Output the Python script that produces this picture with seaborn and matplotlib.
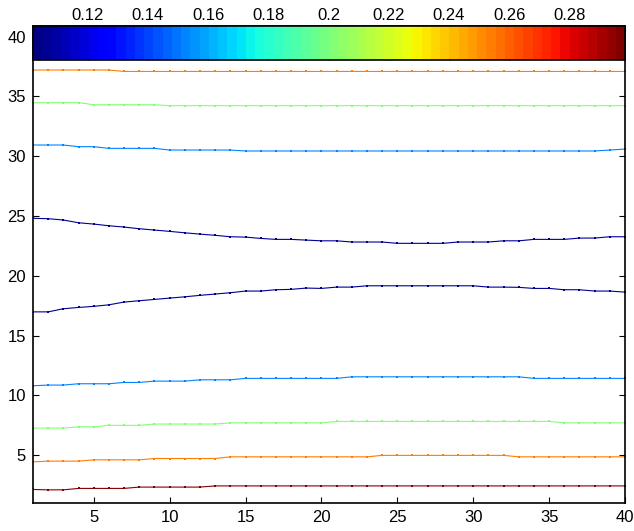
import matplotlib
matplotlib.use("Agg")
import matplotlib.pyplot as plt
import matplotlib as mpl
import pandas as pd
import seaborn as sns

sns.set_theme(style="white")
plt.rcParams["font.family"] = ["Liberation Sans", "DejaVu Sans"]

# x positions of the contour vertices
x_vals = list(range(1, 41))

# contour level (colour value) of each line, top to bottom
line_names = ["top_orange", "top_green", "top_blue", "upper_navy", "lower_navy",
              "low_blue", "low_green", "low_orange", "low_red"]
line_levels = [0.254, 0.202, 0.154, 0.106, 0.106, 0.154, 0.202, 0.254, 0.298]

top_orange = [
    37.20, 37.20, 37.20, 37.20, 37.20, 37.20, 37.08, 37.08, 37.08, 37.08,
    37.08, 37.08, 37.08, 37.08, 37.08, 37.08, 37.08, 37.08, 37.08, 37.08,
    37.08, 37.08, 37.08, 37.08, 37.08, 37.08, 37.08, 37.08, 37.08, 37.08,
    37.08, 37.08, 37.08, 37.08, 37.08, 37.08, 37.08, 37.08, 37.08, 37.08,
]
top_green = [
    34.47, 34.47, 34.47, 34.47, 34.30, 34.30, 34.30, 34.30, 34.30, 34.22,
    34.22, 34.22, 34.22, 34.22, 34.22, 34.22, 34.22, 34.22, 34.22, 34.22,
    34.22, 34.22, 34.22, 34.22, 34.22, 34.22, 34.22, 34.22, 34.22, 34.22,
    34.22, 34.22, 34.22, 34.22, 34.22, 34.22, 34.22, 34.22, 34.22, 34.22,
]
top_blue = [
    30.93, 30.93, 30.93, 30.79, 30.79, 30.65, 30.65, 30.65, 30.65, 30.51,
    30.51, 30.51, 30.51, 30.51, 30.43, 30.43, 30.43, 30.43, 30.43, 30.43,
    30.43, 30.43, 30.43, 30.43, 30.43, 30.43, 30.43, 30.43, 30.43, 30.43,
    30.43, 30.43, 30.43, 30.43, 30.43, 30.43, 30.43, 30.43, 30.51, 30.59,
]
upper_navy = [
    24.80, 24.77, 24.66, 24.43, 24.32, 24.18, 24.07, 23.93, 23.82, 23.71,
    23.59, 23.48, 23.38, 23.26, 23.23, 23.12, 23.04, 23.04, 22.98, 22.92,
    22.92, 22.82, 22.82, 22.82, 22.71, 22.71, 22.71, 22.71, 22.82, 22.82,
    22.82, 22.92, 22.92, 23.04, 23.04, 23.04, 23.15, 23.15, 23.26, 23.26,
]
lower_navy = [
    16.98, 16.98, 17.24, 17.35, 17.44, 17.57, 17.80, 17.91, 18.02, 18.13,
    18.24, 18.36, 18.47, 18.58, 18.72, 18.72, 18.83, 18.86, 18.97, 18.94,
    19.05, 19.05, 19.16, 19.16, 19.16, 19.16, 19.16, 19.16, 19.16, 19.16,
    19.05, 19.05, 19.03, 18.94, 18.94, 18.83, 18.83, 18.72, 18.72, 18.63,
]
low_blue = [
    10.80, 10.86, 10.86, 10.97, 10.97, 10.97, 11.08, 11.08, 11.19, 11.19,
    11.19, 11.30, 11.30, 11.30, 11.42, 11.42, 11.42, 11.42, 11.42, 11.42,
    11.42, 11.55, 11.55, 11.55, 11.55, 11.55, 11.55, 11.55, 11.55, 11.55,
    11.55, 11.55, 11.55, 11.42, 11.42, 11.42, 11.42, 11.42, 11.42, 11.42,
]
low_green = [
    7.26, 7.26, 7.26, 7.37, 7.37, 7.49, 7.49, 7.49, 7.60, 7.60,
    7.60, 7.60, 7.60, 7.70, 7.70, 7.70, 7.70, 7.70, 7.70, 7.70,
    7.82, 7.82, 7.82, 7.82, 7.82, 7.82, 7.82, 7.82, 7.82, 7.82,
    7.82, 7.82, 7.82, 7.82, 7.82, 7.70, 7.70, 7.70, 7.70, 7.70,
]
low_orange = [
    4.44, 4.50, 4.50, 4.50, 4.61, 4.61, 4.61, 4.61, 4.72, 4.72,
    4.72, 4.72, 4.72, 4.86, 4.86, 4.86, 4.86, 4.86, 4.86, 4.86,
    4.86, 4.86, 4.86, 4.98, 4.98, 4.98, 4.98, 4.98, 4.98, 4.98,
    4.98, 4.98, 4.86, 4.86, 4.86, 4.86, 4.86, 4.86, 4.86, 4.86,
]
low_red = [
    2.13, 2.10, 2.10, 2.22, 2.22, 2.22, 2.22, 2.33, 2.33, 2.33,
    2.33, 2.33, 2.43, 2.43, 2.43, 2.43, 2.43, 2.43, 2.43, 2.43,
    2.43, 2.43, 2.43, 2.43, 2.43, 2.43, 2.43, 2.43, 2.43, 2.43,
    2.43, 2.43, 2.43, 2.43, 2.43, 2.43, 2.43, 2.43, 2.43, 2.43,
]

cbar_min, cbar_max = 0.1018, 0.2985
cbar_ticks = [0.12, 0.14, 0.16, 0.18, 0.20, 0.22, 0.24, 0.26, 0.28]
x_ticks = [5, 10, 15, 20, 25, 30, 35, 40]
y_ticks = [5, 10, 15, 20, 25, 30, 35, 40]

series = [top_orange, top_green, top_blue, upper_navy, lower_navy,
          low_blue, low_green, low_orange, low_red]
rows = []
for name, level, ys in zip(line_names, line_levels, series):
    for xv, yv in zip(x_vals, ys):
        rows.append({"line": name, "level": level, "x": xv, "y": yv})
df = pd.DataFrame(rows)

cmap = mpl.colormaps["jet"].resampled(64)

fig = plt.figure(figsize=(6.34, 5.31), dpi=100)
ax = fig.add_axes([33 / 634, 28 / 531, 592 / 634, 477 / 531])

sns.lineplot(data=df, x="x", y="y", hue="level", units="line", estimator=None,
             palette=cmap, hue_norm=(cbar_min, cbar_max), sort=False,
             marker="s", markersize=1.6, markeredgewidth=0, linewidth=0.8,
             legend=False, ax=ax)

ax.set_xlim(1, 40)
ax.set_ylim(1, 40.88)
ax.set_xticks(x_ticks)
ax.set_yticks(y_ticks)
ax.set_xlabel("")
ax.set_ylabel("")
ax.tick_params(direction="in", length=4, width=0.8, color="black",
               bottom=True, left=True, top=True, right=True,
               labelsize=12, labelcolor="black", pad=5)
for sp in ax.spines.values():
    sp.set_color("black")
    sp.set_linewidth(1.2)

# colorbar drawn inside the top of the axes
cax = fig.add_axes([33 / 634, (531 - 60) / 531, 592 / 634, 34 / 531])
sm = mpl.cm.ScalarMappable(norm=mpl.colors.Normalize(cbar_min, cbar_max), cmap=cmap)
cb = fig.colorbar(sm, cax=cax, orientation="horizontal", ticks=cbar_ticks)
cb.ax.set_xticklabels([f"{t:g}" for t in cbar_ticks])
cb.outline.set_edgecolor("black")
cb.outline.set_linewidth(1.2)
cax.tick_params(direction="in", length=4, width=0.8, color="black",
                top=True, bottom=True, labeltop=True, labelbottom=False,
                labelsize=12, labelcolor="black", pad=2)

fig.savefig("out.png", dpi=100, facecolor="white")
